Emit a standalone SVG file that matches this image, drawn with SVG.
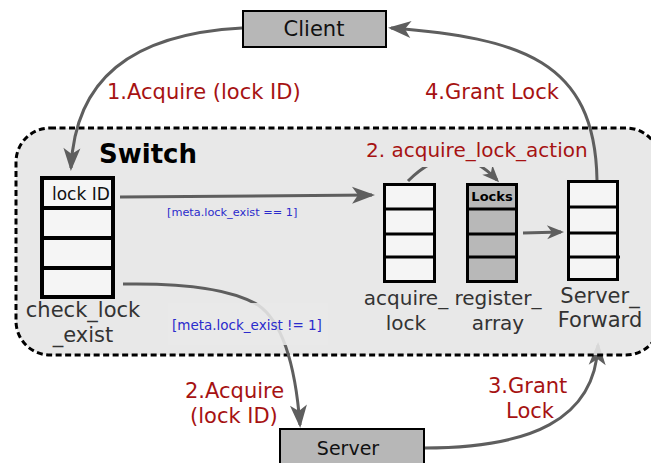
<svg xmlns="http://www.w3.org/2000/svg" width="651" height="463" viewBox="0 0 651 463">
  <defs>
    <marker id="ah" markerUnits="userSpaceOnUse" viewBox="-26 -12 32 24" markerWidth="32" markerHeight="24" refX="0" refY="0" orient="auto" overflow="visible">
      <path d="M3,0 L-20,-8.5 L-14,0 L-20,8.5 Z" fill="#5e5e5e"/>
    </marker>
    <marker id="ahs" markerUnits="userSpaceOnUse" viewBox="-20 -9 24 18" markerWidth="24" markerHeight="18" refX="0" refY="0" orient="auto" overflow="visible">
      <path d="M3,0 L-14,-7 L-9,0 L-14,7 Z" fill="#5e5e5e"/>
    </marker>
    <style>
      .conn { fill: none; stroke: #5e5e5e; stroke-width: 3; }
      .box { fill: #b7b7b7; stroke: #000; stroke-width: 2; }
      .tbl { fill: #f5f5f5; stroke: #000; }
      .tbl-dark { fill: #b8b8b8; stroke: #000; }
      .row { stroke: #000; }
      .t { font-family: "DejaVu Sans", "Liberation Sans", sans-serif; }
      .step { fill: #a61212; font-size: 21px; }
      .name { fill: #333; }
      .cond { fill: #2b2bcc; }
      .bg { fill: #e8e8e8; }
    </style>
  </defs>

  <!-- reply from the server enters the switch from below (drawn under the switch area) -->
  <g id="connectors-under">
    <path class="conn" d="M424,448 C530,448 595,420 598,345" marker-end="url(#ah)"/>
  </g>

  <!-- switch pipeline area -->
  <g id="switch">
    <rect x="16" y="128" width="644" height="227" rx="34" ry="34" fill="#e6e6e6" fill-opacity="0.9" stroke="#000" stroke-width="3" stroke-dasharray="6 3.5"/>
    <text class="t" x="99" y="163" font-size="26" font-weight="bold" fill="#000">Switch</text>
  </g>

  <g id="connectors">
    <!-- client request into check_lock_exist -->
    <path class="conn" d="M242,28 C130,34 75,80 71,168" marker-end="url(#ah)"/>
    <!-- lock exists: go to acquire_lock -->
    <path class="conn" d="M120,197 L372,195" marker-end="url(#ah)"/>
    <!-- lock missing: forward to server -->
    <path class="conn" d="M123,284 C180,283 230,288 258,305 C280,320 295,360 300,425" marker-end="url(#ah)"/>
    <!-- acquire_lock_action reads the register array -->
    <path class="conn" d="M408,181 Q454,135 497,180" marker-end="url(#ahs)"/>
    <!-- register_array to Server_Forward -->
    <path class="conn" d="M523,233 L561,232" marker-end="url(#ahs)"/>
    <!-- grant back to the client -->
    <path class="conn" d="M597,180 C595,60 520,38 391,28" marker-end="url(#ah)"/>
  </g>

  <!-- edge labels -->
  <g id="labels">
    <text class="t step" x="107" y="99">1.Acquire (lock ID)</text>
    <text class="t step" x="425" y="99">4.Grant Lock</text>
    <rect class="bg" x="364" y="139" width="227" height="28"/>
    <text class="t" x="366" y="157" font-size="20" fill="#a61212">2. acquire_lock_action</text>
    <text class="t cond" x="167" y="216" font-size="11.3">[meta.lock_exist == 1]</text>
    <rect class="bg" x="168" y="303" width="160" height="42" fill-opacity="0.88"/>
    <text class="t cond" x="172" y="330" font-size="13.5">[meta.lock_exist != 1]</text>
    <text class="t step" x="185" y="398">2.Acquire</text>
    <text class="t step" x="190" y="423">(lock ID)</text>
    <text class="t step" x="488" y="393">3.Grant</text>
    <text class="t step" x="530" y="418" text-anchor="middle">Lock</text>
  </g>

  <g id="client">
    <rect class="box" x="243" y="11" width="143" height="36"/>
    <text class="t" x="314" y="36" font-size="21" text-anchor="middle" fill="#111">Client</text>
  </g>

  <g id="server">
    <rect class="box" x="280" y="429" width="144" height="42"/>
    <text class="t" x="348" y="455" font-size="19" text-anchor="middle" fill="#111">Server</text>
  </g>

  <g id="check_lock_exist">
    <rect class="tbl" x="42" y="178" width="71" height="119" stroke-width="4"/>
    <g class="row" stroke-width="4">
      <line x1="42" y1="208" x2="113" y2="208"/>
      <line x1="42" y1="238" x2="113" y2="238"/>
      <line x1="42" y1="268" x2="113" y2="268"/>
    </g>
    <text class="t" x="52" y="200" font-size="17" fill="#111">lock ID</text>
    <text class="t name" x="83" y="317" font-size="21" text-anchor="middle">check_lock</text>
    <text class="t name" x="83" y="342" font-size="21" text-anchor="middle">_exist</text>
  </g>

  <g id="acquire_lock">
    <rect class="tbl" x="384.5" y="184.5" width="50" height="97" stroke-width="3"/>
    <g class="row" stroke-width="3">
      <line x1="384" y1="209" x2="435" y2="209"/>
      <line x1="384" y1="234" x2="435" y2="234"/>
      <line x1="384" y1="257" x2="435" y2="257"/>
    </g>
    <text class="t name" x="406" y="305" font-size="20" text-anchor="middle">acquire_</text>
    <text class="t name" x="406" y="330" font-size="20" text-anchor="middle">lock</text>
  </g>

  <g id="register_array">
    <rect class="tbl-dark" x="467.5" y="184.5" width="49" height="97" stroke-width="3"/>
    <g class="row" stroke-width="3">
      <line x1="467" y1="209" x2="517" y2="209"/>
      <line x1="467" y1="234" x2="517" y2="234"/>
      <line x1="467" y1="257" x2="518" y2="257"/>
    </g>
    <text class="t" x="492" y="201" font-size="13" font-weight="bold" text-anchor="middle" fill="#000">Locks</text>
    <text class="t name" x="498" y="305" font-size="20" text-anchor="middle">register_</text>
    <text class="t name" x="498" y="330" font-size="20" text-anchor="middle">array</text>
  </g>

  <g id="server_forward">
    <rect class="tbl" x="568.5" y="181.5" width="49" height="98" stroke-width="3"/>
    <g class="row" stroke-width="3">
      <line x1="568" y1="207" x2="618" y2="207"/>
      <line x1="568" y1="233" x2="618" y2="233"/>
      <line x1="568" y1="257" x2="620" y2="257"/>
    </g>
    <text class="t name" x="600" y="303" font-size="21" text-anchor="middle">Server_</text>
    <text class="t name" x="600" y="327" font-size="21" text-anchor="middle">Forward</text>
  </g>
</svg>
